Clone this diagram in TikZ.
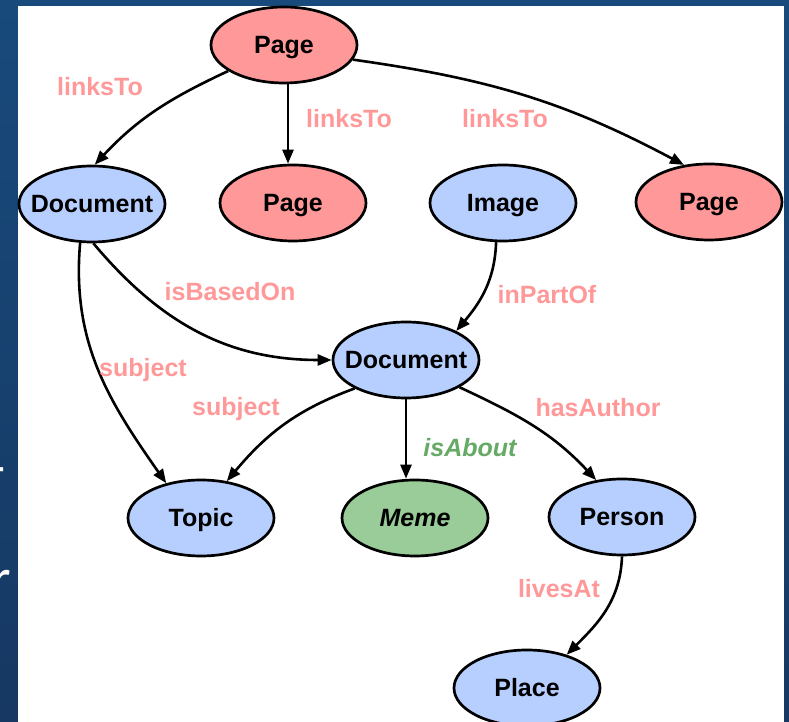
\documentclass[tikz,border=0pt]{standalone}
\usepackage{fontspec}
\setmainfont{Liberation Sans}
\newfontfamily\slidefont{Carlito}
\usetikzlibrary{shapes.geometric,arrows.meta}
\definecolor{pagered}{RGB}{255,153,153}
\definecolor{docblue}{RGB}{183,207,255}
\definecolor{memegreen}{RGB}{153,204,153}
\definecolor{labelpink}{RGB}{255,153,153}
\definecolor{aboutgreen}{RGB}{102,170,102}
\definecolor{slidetop}{RGB}{24,74,124}
\definecolor{slidebot}{RGB}{22,56,98}
% node text as a zero-size box, caps centred on the node centre
\newcommand\ctrtext[1]{\raisebox{-0.358em}[0pt][0pt]{\makebox[0pt]{#1}}}
\begin{document}
\begin{tikzpicture}[x=1pt,y=1pt,
  ent/.style={ellipse, draw=black, line width=2.7pt, minimum width=146pt,
    minimum height=76pt, inner sep=0pt, font=\fontsize{25}{30}\selectfont\bfseries},
  pagenode/.style={ent, fill=pagered},
  docnode/.style={ent, fill=docblue},
  memenode/.style={ent, fill=memegreen, font=\fontsize{25}{30}\selectfont\bfseries\itshape},
  rel/.style={draw=black, line width=2.6pt, -{Triangle[length=14pt,width=11pt]}},
  lbl/.style={anchor=base, text=labelpink, inner sep=0pt,
    font=\fontsize{25}{30}\selectfont\bfseries},
  frag/.style={anchor=base west, inner sep=0pt, text=white,
    font=\slidefont\fontsize{56}{60}\selectfont},
]
\useasboundingbox (0,0) rectangle (789,722);
% slide background and white panel
\fill[top color=slidetop, bottom color=slidebot] (0,0) rectangle (789,722);
\node[frag] (dashfrag) at (-12,236) {-};
\node[frag] (rfrag) at (-9,124) {r};
\fill[white] (18,0) rectangle (784,716);

% entities
\node[pagenode] (p0) at (284,677) {\ctrtext{Page}};
\node[docnode]  (d1) at (92,518) {\ctrtext{Document}};
\node[pagenode] (p1) at (293,519) {\ctrtext{Page}};
\node[docnode]  (img) at (503,519) {\ctrtext{Image}};
\node[pagenode] (p2) at (709,520) {\ctrtext{Page}};
\node[docnode]  (d2) at (406,362) {\ctrtext{Document}};
\node[docnode]  (topic) at (201,204) {\ctrtext{Topic}};
\node[memenode] (meme) at (415,204) {\ctrtext{Meme}};
\node[docnode]  (person) at (622,205) {\ctrtext{Person}};
\node[docnode]  (place) at (527,34) {\ctrtext{Place}};

% relations
\draw[rel] (p0.205) to[out=205,in=47] (d1.86);
\draw[rel] ([xshift=4pt]p0.south) -- ([xshift=-5pt]p1.north);
\draw[rel] (p0.-12) to[out=-8,in=152] (p2.124);
\draw[rel] (d1.-88) to[out=-50,in=180] (d2.west);
\draw[rel] (d1.-107) to[out=-95,in=125] (topic.135);
\draw[rel] (img.-100) to[out=-92,in=50] (d2.30);
\draw[rel] (d2.209) to[out=200,in=50] (topic.55);
\draw[rel] (d2.south) -- (d2.south |- meme.north);
\draw[rel] (d2.-27) to[out=-25,in=133] (person.125);
\draw[rel] (person.-90) to[out=-92,in=45] (place.40);

% relation labels
\node[lbl] (l1) at (100,626) {linksTo};
\node[lbl] (l2) at (349,594) {linksTo};
\node[lbl] (l3) at (505,594) {linksTo};
\node[lbl] (l4) at (230,421) {isBasedOn};
\node[lbl] (l5) at (547,418) {inPartOf};
\node[lbl] (l6) at (143,345) {subject};
\node[lbl] (l7) at (236,306) {subject};
\node[lbl] (l8) at (598,305) {hasAuthor};
\node[lbl, text=aboutgreen, font=\fontsize{25}{30}\selectfont\bfseries\itshape] (l9) at (470,265) {isAbout};
\node[lbl] (l10) at (559,124) {livesAt};
\end{tikzpicture}
\end{document}
